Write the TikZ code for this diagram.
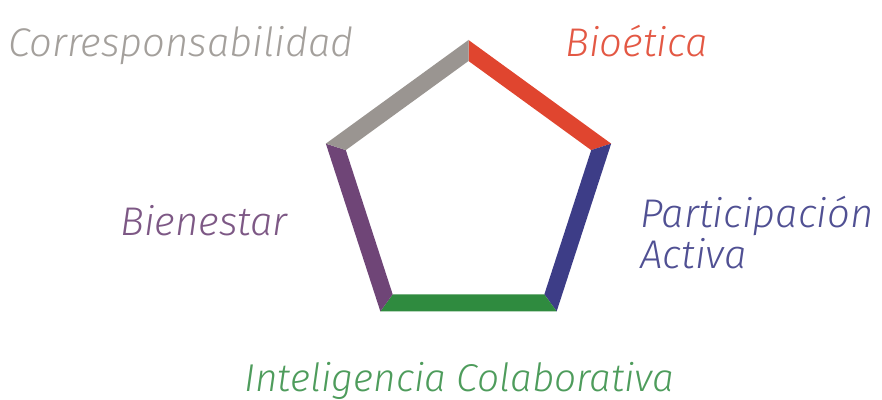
\documentclass[tikz,border=0pt]{standalone}
\usepackage{fontspec}
\newfontfamily\labelfont{Fira Sans Light}
\usepackage{tikz}

\definecolor{bioRed}{HTML}{E0452F}
\definecolor{actNavy}{HTML}{3D3D87}
\definecolor{colGreen}{HTML}{2F8B3F}
\definecolor{bienPurple}{HTML}{6F4577}
\definecolor{corGray}{HTML}{9A9591}

\begin{document}
\begin{tikzpicture}[x=0.5pt,y=0.5pt,
			lbl/.style={anchor=base west, inner sep=0pt, font=\labelfont\itshape\fontsize{20}{18.5}\selectfont, align=left}
		]
		\useasboundingbox (0,0) rectangle (882,400);
		% pentagon sides, one colour each
		\begin{scope}[shift={(468.5,210)}]
			\foreach \a/\c in {90/bioRed, 18/actNavy, -54/colGreen, -126/bienPurple, 162/corGray}{
				\fill[\c] (\a:150) -- (\a-72:150) -- (\a-72:129) -- (\a:129) -- cycle;
			}
		\end{scope}

		\node[lbl, text=corGray!90] (cor) at (8,343) {Corresponsabilidad};
		\node[lbl, text=bioRed!90] (bio) at (565,343) {Bioética};
		\node[lbl, text=bienPurple!90] (bien) at (120,164) {Bienestar};
		\node[lbl, text=actNavy!90, anchor=north west] (act) at (640,204) {Participación\\Activa};
		\node[lbl, text=colGreen!85, font=\labelfont\itshape\fontsize{19.4}{18}\selectfont] (col) at (244,8) {Inteligencia Colaborativa};
	\end{tikzpicture}
\end{document}
